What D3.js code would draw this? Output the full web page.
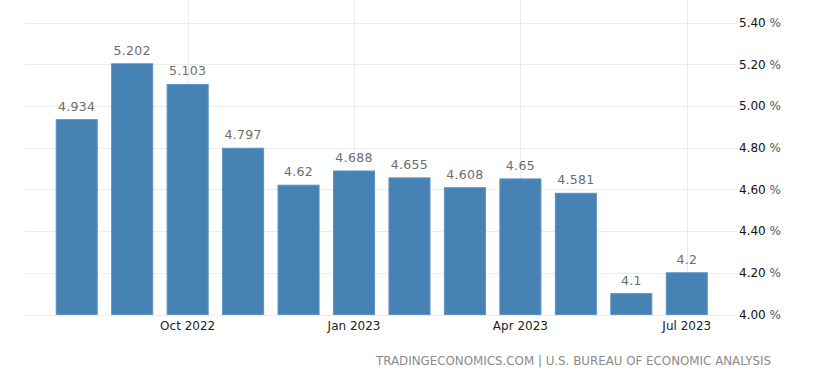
<!DOCTYPE html>
<html><head><meta charset="utf-8">
<script src="https://cdn.jsdelivr.net/npm/d3@7"></script>
<style>body{margin:0;background:#fff;}svg{display:block;font-family:"DejaVu Sans",Verdana,sans-serif;}</style>
</head><body>
<svg id="c" width="826" height="384"></svg>
<script>
const months = ["Aug 2022","Sep 2022","Oct 2022","Nov 2022","Dec 2022","Jan 2023","Feb 2023","Mar 2023","Apr 2023","May 2023","Jun 2023","Jul 2023"];
const values = [4.934, 5.202, 5.103, 4.797, 4.62, 4.688, 4.655, 4.608, 4.65, 4.581, 4.1, 4.2];
const valueLabels = ["4.934","5.202","5.103","4.797","4.62","4.688","4.655","4.608","4.65","4.581","4.1","4.2"];
const xTicks = ["Oct 2022","Jan 2023","Apr 2023","Jul 2023"];
const yTicks = [4.0, 4.2, 4.4, 4.6, 4.8, 5.0, 5.2, 5.4];
const credit = "TRADINGECONOMICS.COM | U.S. BUREAU OF ECONOMIC ANALYSIS";

const svg = d3.select("#c");
const x = d3.scaleBand().domain(months).range([49, 714.5]).paddingInner(0.26).paddingOuter(0.13);
const y = d3.scaleLinear().domain([4.0, 5.4]).range([314.5, 22.5]);

// horizontal grid
svg.append("g").selectAll("line").data(yTicks).join("line")
  .attr("x1", 25).attr("x2", 737)
  .attr("y1", d => Math.round(y(d)) + 0.5).attr("y2", d => Math.round(y(d)) + 0.5)
  .attr("stroke", "#ececec").attr("stroke-width", 1);
// vertical grid
svg.append("g").selectAll("line").data(xTicks).join("line")
  .attr("x1", d => Math.round(x(d) + x.bandwidth()/2) + 0.5)
  .attr("x2", d => Math.round(x(d) + x.bandwidth()/2) + 0.5)
  .attr("y1", 0).attr("y2", 315)
  .attr("stroke", "#ececec").attr("stroke-width", 1);

// bars
svg.append("g").selectAll("rect").data(values).join("rect")
  .attr("x", (d,i) => x(months[i]))
  .attr("width", x.bandwidth())
  .attr("y", d => y(d))
  .attr("height", d => y(4.0) - y(d))
  .attr("fill", "#4682b4")
  .attr("stroke", "#5b92c1").attr("stroke-width", 1);

// value labels
svg.append("g").selectAll("text").data(values).join("text")
  .attr("x", (d,i) => x(months[i]) + x.bandwidth()/2)
  .attr("y", d => y(d) - 9)
  .attr("text-anchor", "middle")
  .attr("font-size", 12.5).attr("letter-spacing", 0.3)
  .attr("fill", "#6d6d6d")
  .text((d,i) => valueLabels[i]);

// x axis labels
const xAxis = d3.axisBottom(x).tickValues(xTicks).tickSize(0).tickPadding(6);
const gx = svg.append("g").attr("transform", "translate(0,315)").call(xAxis);
gx.select(".domain").remove();
gx.selectAll("text").attr("font-size", 12).attr("fill", "#222").attr("font-family", "DejaVu Sans, Verdana, sans-serif");

// y axis labels
const yAxis = d3.axisRight(y).tickValues(yTicks).tickSize(0).tickPadding(0).tickFormat(d3.format(".2f"));
const gy = svg.append("g").attr("transform", "translate(739,0)").call(yAxis);
gy.select(".domain").remove();
gy.selectAll("text").attr("font-size", 12).attr("fill", "#111").attr("font-family", "DejaVu Sans, Verdana, sans-serif")
  .each(function(d){
    const t = d3.select(this);
    t.text(null);
    t.append("tspan").text(d3.format(".2f")(d));
    t.append("tspan").attr("fill", "#555").text(" %");
  });

// credit
svg.append("text").attr("x", 376).attr("y", 365)
  .attr("font-size", 12.5).attr("fill", "#8a8a8a")
  .attr("textLength", 395).attr("lengthAdjust", "spacingAndGlyphs")
  .text(credit);
</script>
</body></html>
